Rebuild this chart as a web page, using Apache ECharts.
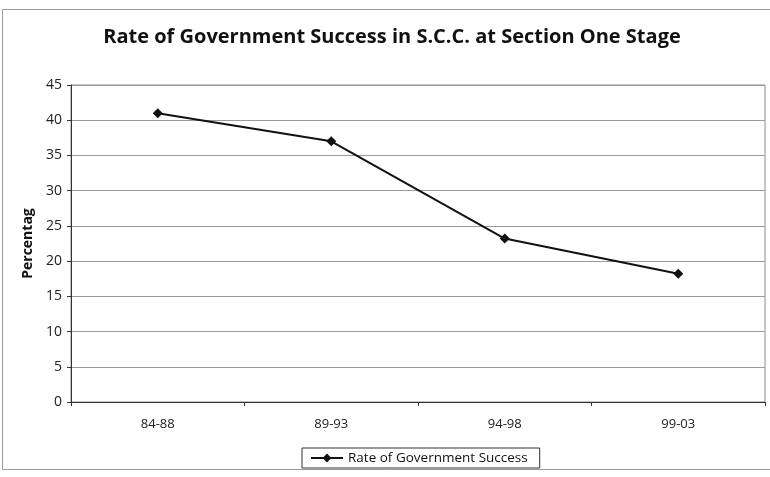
<!DOCTYPE html>
<html>
<head>
<meta charset="utf-8">
<script src="https://cdn.jsdelivr.net/npm/echarts@6/dist/echarts.min.js"></script>
<style>
  html, body { margin: 0; padding: 0; background: #fff; }
  #chart { width: 770px; height: 477px; }
</style>
</head>
<body>
<div id="chart"></div>
<script>
  const periods = ['84-88', '89-93', '94-98', '99-03'];
  const successRate = [41.0, 37.0, 23.2, 18.2];
  const seriesName = 'Rate of Government Success';
  const titleText = 'Rate of Government Success in S.C.C. at Section One Stage';
  const yAxisLabel = 'Percentag';

  const chart = echarts.init(document.getElementById('chart'), null, {renderer: 'canvas'});
  chart.setOption({
    animation: false,
    backgroundColor: '#fff',
    textStyle: {fontFamily: 'Open Sans, Liberation Sans, sans-serif'},
    graphic: [{
      type: 'rect',
      shape: {x: 2.5, y: 9.5, width: 780, height: 460},
      style: {fill: 'none', stroke: '#9a9a9a', lineWidth: 1},
      silent: true,
    }],
    title: {
      text: titleText,
      left: 387,
      textAlign: 'center',
      top: 22,
      textStyle: {fontSize: 20, fontWeight: 'bold', color: '#111', fontFamily: 'Open Sans'},
    },
    grid: {
      left: 71, right: 5, top: 85, bottom: 75,
      show: true, borderColor: '#8a8a8a', borderWidth: 1,
    },
    legend: {
      data: [seriesName],
      left: 302,
      top: 448,
      padding: [3, 12, 3, 8],
      borderColor: '#333',
      borderWidth: 1,
      itemWidth: 32,
      itemHeight: 11,
      itemGap: 4,
      textStyle: {fontSize: 13.5, color: '#111'},
    },
    xAxis: {
      type: 'category',
      data: periods,
      boundaryGap: true,
      axisLine: {lineStyle: {color: '#333', width: 1}},
      axisTick: {show: true, length: 4, lineStyle: {color: '#333'}},
      axisLabel: {fontSize: 13, color: '#222', margin: 16},
      splitLine: {show: false},
    },
    yAxis: {
      type: 'value',
      min: 0, max: 45, interval: 5,
      name: yAxisLabel,
      nameLocation: 'middle',
      nameGap: 34,
      nameTextStyle: {fontSize: 14, fontWeight: 'bold', color: '#111'},
      axisLine: {show: true, lineStyle: {color: '#333', width: 1}},
      axisTick: {show: true, length: 4, lineStyle: {color: '#333'}},
      axisLabel: {fontSize: 14, color: '#222', margin: 9},
      splitLine: {lineStyle: {color: '#9a9a9a', width: 1}},
    },
    series: [{
      name: seriesName,
      type: 'line',
      data: successRate,
      symbol: 'diamond',
      symbolSize: 10,
      itemStyle: {color: '#111'},
      lineStyle: {color: '#111', width: 2},
    }],
  });
</script>
</body>
</html>
